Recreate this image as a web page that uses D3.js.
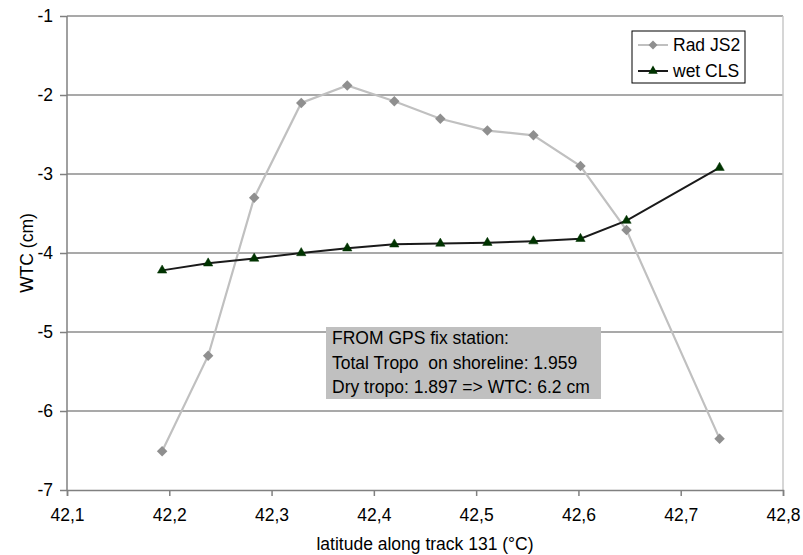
<!DOCTYPE html>
<html>
<head>
<meta charset="utf-8">
<title>WTC along track 131</title>
<style>
  body { margin: 0; background: #fff; }
  svg text { font-family: "Liberation Sans", Arial, sans-serif; fill: #000; white-space: pre; }
</style>
</head>
<body>
<svg id="chart" width="803" height="555"></svg>
<script src="https://cdn.jsdelivr.net/npm/d3@7"></script>
<script>
// latitudes of the samples
const latitude = [42.193, 42.238, 42.283, 42.329, 42.374, 42.420, 42.465, 42.511, 42.556, 42.602, 42.647, 42.738]
const radJS2 = [-6.51, -5.30, -3.30, -2.10, -1.88, -2.08, -2.30, -2.45, -2.51, -2.90, -3.71, -6.35]
const wetCLS = [-4.22, -4.13, -4.07, -4.00, -3.94, -3.89, -3.88, -3.87, -3.85, -3.82, -3.59, -2.92]
const seriesNames = ["Rad JS2", "wet CLS"]
const xTicks = [42.1, 42.2, 42.3, 42.4, 42.5, 42.6, 42.7, 42.8]
const yTicks = [-1, -2, -3, -4, -5, -6, -7]
const noteLines = ["FROM GPS fix station:", "Total Tropo  on shoreline: 1.959", "Dry tropo: 1.897 => WTC: 6.2 cm"]

const svg = d3.select("#chart")
const plotL = 67, plotR = 783, plotT = 16, plotB = 490
const fs = 17.5

let x = d3.scaleLinear().domain([42.1, 42.8]).range([plotL, plotR])
let y = d3.scaleLinear().domain([-7, -1]).range([plotB, plotT])

// grid lines
svg.append("g")
  .selectAll("line")
  .data(yTicks.filter(d => d > -7))
  .join("line")
  .attr("x1", plotL).attr("x2", plotR)
  .attr("y1", d => y(d)).attr("y2", d => y(d))
  .attr("stroke", "#8c8c8c").attr("stroke-width", 1.5)

// right border of the plot area
svg.append("line")
  .attr("x1", plotR).attr("x2", plotR).attr("y1", plotT).attr("y2", plotB)
  .attr("stroke", "#c8c8c8").attr("stroke-width", 1.5)

let xAxis = d3.axisBottom(x).tickValues(xTicks).tickSize(6).tickPadding(13)
  .tickFormat(d => d.toFixed(1).replace(".", ","))
let gx = svg.append("g").attr("transform", `translate(0,${plotB})`).call(xAxis)

let yAxis = d3.axisLeft(y).tickValues(yTicks).tickSize(7).tickPadding(7)
  .tickFormat(d => String(d))
let gy = svg.append("g").attr("transform", `translate(${plotL},0)`).call(yAxis)

for (const g of [gx, gy]) {
  g.attr("font-size", fs).attr("font-family", null)
  g.select(".domain").attr("stroke", "#808080").attr("stroke-width", 1.5)
  g.selectAll(".tick line").attr("stroke", "#808080").attr("stroke-width", 1.5)
  g.selectAll(".tick text").attr("fill", "#000")
}
gy.select(".domain").attr("d", `M0,${plotT}V${plotB}`)

// axis titles
svg.append("text").attr("x", (plotL + plotR) / 2).attr("y", 550)
  .attr("text-anchor", "middle").attr("font-size", fs)
  .text("latitude along track 131 (°C)")
svg.append("text").attr("transform", "translate(33,253) rotate(-90)")
  .attr("text-anchor", "middle").attr("font-size", fs)
  .text("WTC (cm)")

// note box
let note = svg.append("g").attr("transform", "translate(326,327)")
note.append("rect").attr("width", 275).attr("height", 72).attr("fill", "#c0c0c0")
note.selectAll("text").data(noteLines).join("text")
  .attr("x", 6).attr("y", (d, i) => 17 + i * 24.5)
  .attr("font-size", fs).text(d => d)

let line = d3.line().x(d => x(d[0])).y(d => y(d[1]))
const radPts = latitude.map((d, i) => [d, radJS2[i]])
const wetPts = latitude.map((d, i) => [d, wetCLS[i]])

svg.append("path").datum(radPts).attr("d", line)
  .attr("fill", "none").attr("stroke", "#c0c0c0").attr("stroke-width", 2.2)
svg.append("g").selectAll("path").data(radPts).join("path")
  .attr("d", d3.symbol(d3.symbolSquare, 55))
  .attr("transform", d => `translate(${x(d[0])},${y(d[1])}) rotate(45)`)
  .attr("fill", "#8f8f8f")

svg.append("path").datum(wetPts).attr("d", line)
  .attr("fill", "none").attr("stroke", "#1a1a1a").attr("stroke-width", 2)
svg.append("g").selectAll("path").data(wetPts).join("path")
  .attr("d", d3.symbol(d3.symbolTriangle, 38))
  .attr("transform", d => `translate(${x(d[0])},${y(d[1])})`)
  .attr("fill", "#003300").attr("stroke", "#003300").attr("stroke-width", 0.5)

// legend
let legend = svg.append("g").attr("transform", "translate(632,31)")
legend.append("rect").attr("width", 113).attr("height", 52)
  .attr("fill", "#fff").attr("stroke", "#000").attr("stroke-width", 1)
let items = legend.selectAll("g").data(seriesNames).join("g")
  .attr("transform", (d, i) => `translate(0,${14 + i * 26})`)
items.append("line").attr("x1", 6).attr("x2", 36)
  .attr("stroke", (d, i) => i == 0 ? "#c0c0c0" : "#1a1a1a").attr("stroke-width", 2)
items.append("path")
  .attr("d", (d, i) => d3.symbol(i == 0 ? d3.symbolSquare : d3.symbolTriangle, i == 0 ? 40 : 38)())
  .attr("transform", (d, i) => `translate(21,0) rotate(${i == 0 ? 45 : 0})`)
  .attr("fill", (d, i) => i == 0 ? "#8f8f8f" : "#003300")
items.append("text").attr("x", 41).attr("y", 6)
  .attr("font-size", fs).text(d => d)
</script>
</body>
</html>
